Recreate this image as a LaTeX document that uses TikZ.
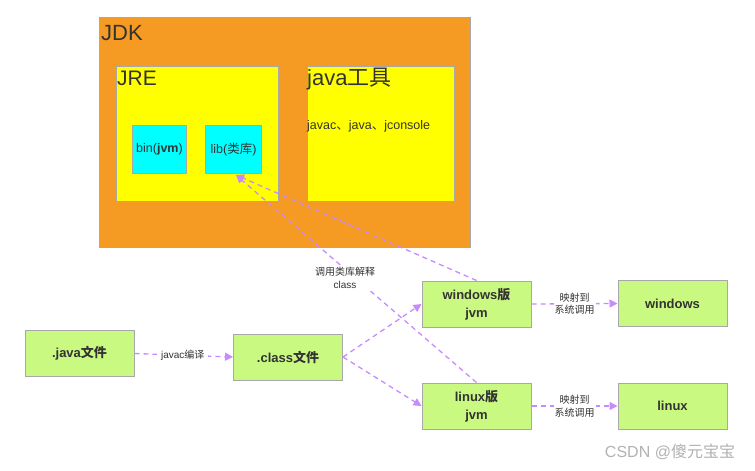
\documentclass[tikz,border=0pt]{standalone}
\usepackage{fontspec}
\setmainfont{Liberation Sans}
\newfontfamily\cjk{Noto Sans CJK SC}
\usetikzlibrary{arrows.meta}
\definecolor{jdkor}{HTML}{F59A23}
\definecolor{boxgr}{HTML}{CAF982}
\definecolor{yel}{HTML}{FFFF00}
\definecolor{cya}{HTML}{00FFFF}
\definecolor{arr}{HTML}{C78BFF}
\definecolor{bord}{HTML}{A8A8A8}
\definecolor{txt}{HTML}{333333}
\begin{document}
\begin{tikzpicture}[x=1pt,y=-1pt,
  box/.style={draw=bord,line width=1pt,inner sep=0pt,anchor=north west},
  gbox/.style={draw=bord,line width=1pt,fill=boxgr,minimum width=109pt,minimum height=46pt,inner sep=0pt,font=\bfseries\fontsize{13}{18}\selectfont,text=txt,align=center},
  conn/.style={draw=arr,line width=1.3pt,dash pattern=on 5pt off 4pt,-{Triangle[length=8pt,width=8pt]}},
  lbl/.style={fill=white,inner sep=1pt,font=\fontsize{10}{12.5}\selectfont,text=txt,align=center}
]
\useasboundingbox (0,0) rectangle (755,471);
\fill[white] (0,0) rectangle (755,471);
% JDK
\node[box,fill=jdkor,minimum width=371pt,minimum height=230pt] (jdk) at (99,17) {};
\node[anchor=north west,inner sep=0pt,text=txt,font=\fontsize{22}{24}\selectfont] (jdkt) at (101,25) {JDK};
\node[box,fill=yel,minimum width=162pt,minimum height=135pt] (jre) at (116,66) {};
\node[anchor=north west,inner sep=0pt,text=txt,font=\fontsize{21}{23}\selectfont] (jret) at (117,71) {JRE};
\node[box,fill=yel,minimum width=147pt,minimum height=135pt] (tools) at (307,66) {};
\node[anchor=north west,inner sep=0pt,text=txt,font=\fontsize{22}{24}\selectfont] (toolst) at (307,68) {java{\cjk 工具}};
\node[anchor=west,inner sep=0pt,text=txt,font=\fontsize{12.5}{14}\selectfont] (toolsl) at (307,126) {javac{\cjk 、}java{\cjk 、}jconsole};
\node[box,fill=cya,minimum width=54pt,minimum height=48pt] (bin) at (132,125) {};
\node[text=txt,font=\fontsize{12.5}{14}\selectfont,inner sep=0pt] (bint) at (bin.center) {bin(\textbf{jvm})};
\node[box,fill=cya,minimum width=56pt,minimum height=48pt] (lib) at (205,125) {};
\node[text=txt,font=\fontsize{12.5}{14}\selectfont,inner sep=0pt] (libt) at (lib.center) {lib({\cjk 类库})};
% flow boxes
\node[gbox] (java) at (79.5,353.5) {.java{\cjk 文件}};
\node[gbox] (class) at (288,357) {.class{\cjk 文件}};
\node[gbox] (wjvm) at (476.5,304) {windows{\cjk 版}\\jvm};
\node[gbox] (ljvm) at (476.5,406) {linux{\cjk 版}\\jvm};
\node[gbox] (win) at (672.5,303.5) {windows};
\node[gbox] (lin) at (672.5,406) {linux};
\coordinate (libin) at (236,175);
% connectors
\draw[conn] (java.east) -- (class.west) node[lbl,midway,xshift=-1pt,inner xsep=4pt] {javac{\cjk 编译}};
\draw[conn] (class.east) -- (wjvm.west);
\draw[conn] (class.east) -- (ljvm.west);
\draw[conn] (wjvm.north) -- (libin);
\draw[conn] (ljvm.north) -- (libin);
\node[lbl] (call) at (345,278) {{\cjk 调用类库解释}\\class};
\draw[conn] (wjvm.east) -- (win.west) node[lbl,midway] {{\cjk 映射到}\\{\cjk 系统调用}};
\draw[conn] (ljvm.east) -- (lin.west) node[lbl,midway] {{\cjk 映射到}\\{\cjk 系统调用}};
% watermark
\node[text=gray!60,font=\fontsize{16}{18}\selectfont,inner sep=0pt] (wm) at (670,452) {CSDN @{\cjk 傻元宝宝}};
\end{tikzpicture}
\end{document}
